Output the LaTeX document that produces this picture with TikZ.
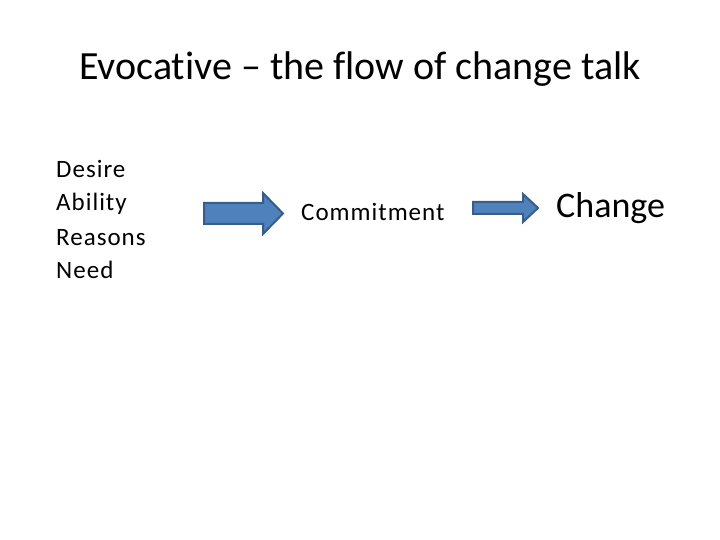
\documentclass[tikz,border=0pt]{standalone}
\usepackage{fontspec}
\setmainfont[Ligatures={NoCommon,NoContextual}]{Carlito}
\definecolor{arrowfill}{HTML}{4F81BD}
\definecolor{arrowline}{HTML}{385D8A}
\begin{document}
\begin{tikzpicture}[x=1pt,y=-1pt,
  txt/.style={inner sep=0pt,anchor=base west},
  listfont/.style={font=\fontsize{25}{30}\selectfont\addfontfeatures{LetterSpace=4}},
  blockarrow/.style={fill=arrowfill,draw=arrowline,line width=2pt,line join=miter}]
\useasboundingbox (0,0) rectangle (720,540);
\node[txt,font=\fontsize{40}{48}\selectfont] (title) at (79,80) {Evocative – the flow of change talk};
\node[txt,listfont] (d) at (56,178) {Desire};
\node[txt,listfont] (a) at (56,211) {Ability};
\node[txt,listfont] (r) at (56,245) {Reasons};
\node[txt,listfont] (n) at (56,278) {Need};
\node[txt,listfont] (c) at (301,221) {Commitment};
\node[txt,font=\fontsize{36}{43}\selectfont] (ch) at (556,218) {Change};
\draw[blockarrow] (204,203) -- (263,203) -- (263,193) -- (283,213.5) -- (263,234) -- (263,224) -- (204,224) -- cycle;
\draw[blockarrow] (473,202) -- (523,202) -- (523,194) -- (538,208) -- (523,222) -- (523,214) -- (473,214) -- cycle;
\end{tikzpicture}
\end{document}
